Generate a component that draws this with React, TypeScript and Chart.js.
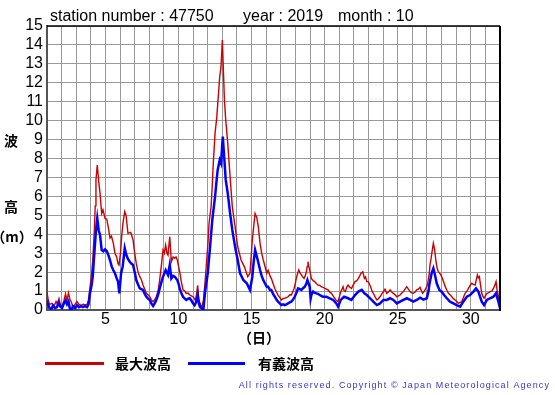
import React, { useEffect, useRef } from "react";
import { Chart, registerables } from "chart.js";

Chart.register(...registerables);

const titleParts = ["station number : 47750", "year : 2019", "month : 10"];
const xLabelDays = [5, 10, 15, 20, 25, 30];
const seriesLabels = ["最大波高", "有義波高"];
const seriesColors = ["#cc0000", "#0000ff"];
const yAxisChars = ["波", "高", "（m）"];
const xAxisTitle = "（日）";
const copyright = "All rights reserved. Copyright © Japan Meteorological Agency";

// [day of month (1.0 = Oct 1 00:00), wave height m]
const maxWave: [number, number][] = [
  [1.0,0.95],[1.07,0.6],[1.17,0.3],[1.34,0.35],[1.48,0.2],[1.62,0.45],[1.72,0.3],[1.82,0.6],[1.92,0.25],[2.03,0.2],
  [2.16,0.5],[2.27,0.85],[2.37,0.5],[2.47,0.9],[2.57,0.55],[2.68,0.4],[2.78,0.1],[2.92,0.3],[3.05,0.45],[3.19,0.3],
  [3.33,0.25],[3.46,0.3],[3.6,0.28],[3.74,0.3],[3.84,0.5],[3.94,1.2],[4.05,1.9],[4.13,2.64],[4.24,4.2],[4.3,5.5],
  [4.35,6.87],[4.44,7.66],[4.54,6.78],[4.63,6.16],[4.74,5.1],[4.83,5.3],[4.97,4.85],[5.09,4.8],[5.21,4.3],[5.31,3.8],
  [5.41,3.9],[5.54,3.52],[5.65,3.0],[5.77,2.8],[5.86,2.45],[5.93,2.38],[6.03,3.0],[6.11,3.9],[6.2,4.6],[6.32,5.2],
  [6.41,5.0],[6.54,4.05],[6.73,4.1],[6.89,3.7],[7.0,3.0],[7.11,2.46],[7.23,2.0],[7.35,1.76],[7.46,1.6],[7.57,1.32],
  [7.69,1.1],[7.8,0.88],[7.91,0.8],[8.03,0.7],[8.14,0.55],[8.26,0.44],[8.37,0.55],[8.48,0.7],[8.6,1.0],[8.71,1.58],
  [8.82,2.3],[8.94,3.17],[9.03,3.0],[9.12,3.43],[9.21,3.0],[9.28,2.9],[9.4,3.87],[9.51,2.55],[9.63,2.8],[9.74,2.73],
  [9.83,2.8],[9.92,2.64],[10.0,2.3],[10.08,2.02],[10.19,1.5],[10.31,1.06],[10.43,1.0],[10.53,0.88],[10.65,0.9],[10.77,0.79],
  [10.88,0.75],[10.99,0.7],[11.1,0.6],[11.15,0.5],[11.23,0.8],[11.31,1.3],[11.38,0.6],[11.47,0.35],[11.59,0.12],[11.7,0.5],
  [11.81,1.41],[11.93,2.64],[12.02,3.6],[12.09,4.58],[12.23,5.46],[12.31,6.6],[12.38,7.75],[12.5,9.33],[12.62,10.2],[12.72,11.27],
  [12.82,12.32],[12.91,12.85],[13.0,14.26],[13.07,12.68],[13.14,11.1],[13.23,10.04],[13.37,8.8],[13.53,7.04],[13.68,5.46],[13.87,4.4],
  [14.05,3.34],[14.28,2.64],[14.5,2.29],[14.74,1.76],[14.89,1.94],[14.97,2.8],[15.05,3.7],[15.17,4.6],[15.24,5.1],[15.35,4.9],
  [15.46,4.4],[15.58,3.52],[15.69,3.0],[15.8,2.64],[15.92,2.3],[16.04,1.94],[16.13,2.1],[16.26,1.8],[16.35,1.67],[16.47,1.4],
  [16.59,1.14],[16.7,0.95],[16.81,0.79],[16.93,0.65],[17.04,0.53],[17.15,0.6],[17.27,0.62],[17.38,0.65],[17.5,0.7],[17.61,0.8],
  [17.72,0.79],[17.84,1.0],[17.91,1.14],[17.99,1.4],[18.06,1.67],[18.14,1.9],[18.23,2.11],[18.32,1.95],[18.41,1.85],[18.5,1.75],
  [18.59,1.67],[18.67,1.8],[18.75,2.02],[18.81,2.3],[18.86,2.55],[18.92,2.3],[18.98,2.11],[19.09,1.67],[19.21,1.55],[19.32,1.5],
  [19.43,1.4],[19.55,1.32],[19.67,1.3],[19.77,1.23],[19.89,1.2],[20.01,1.14],[20.12,1.1],[20.23,1.06],[20.35,0.95],[20.46,0.88],
  [20.58,0.75],[20.69,0.62],[20.8,0.5],[20.92,0.44],[21.01,0.7],[21.1,0.97],[21.19,1.1],[21.26,1.23],[21.34,1.0],[21.42,0.97],
  [21.51,1.2],[21.6,1.32],[21.72,1.2],[21.84,1.14],[21.94,1.3],[22.08,1.5],[22.2,1.55],[22.31,1.67],[22.4,1.8],[22.49,1.94],
  [22.61,2.02],[22.72,1.67],[22.8,1.75],[22.88,1.5],[22.97,1.5],[23.04,1.41],[23.13,1.25],[23.22,1.06],[23.31,0.9],[23.4,0.79],
  [23.48,0.65],[23.57,0.53],[23.68,0.6],[23.79,0.7],[23.91,0.85],[24.02,0.97],[24.13,1.1],[24.25,0.88],[24.36,0.95],[24.48,1.06],
  [24.59,0.95],[24.7,0.88],[24.82,0.8],[24.94,0.7],[25.05,0.75],[25.16,0.79],[25.28,0.9],[25.39,0.97],[25.5,1.1],[25.62,1.23],
  [25.73,1.1],[25.85,0.97],[25.96,0.9],[26.07,0.88],[26.19,0.95],[26.3,1.06],[26.41,1.1],[26.53,1.2],[26.65,0.95],[26.71,0.88],
  [26.87,1.06],[27.03,1.32],[27.15,1.85],[27.21,2.38],[27.28,2.7],[27.35,3.08],[27.44,3.52],[27.53,3.17],[27.62,2.55],[27.7,2.2],
  [27.78,2.02],[27.86,1.95],[27.95,1.85],[28.04,1.7],[28.13,1.5],[28.22,1.3],[28.31,1.14],[28.39,1.0],[28.47,0.88],[28.58,0.8],
  [28.7,0.7],[28.81,0.6],[28.93,0.53],[29.04,0.45],[29.15,0.35],[29.27,0.4],[29.38,0.44],[29.49,0.65],[29.61,0.88],[29.73,1.0],
  [29.84,1.14],[29.95,1.3],[30.07,1.41],[30.18,1.35],[30.3,1.32],[30.38,1.6],[30.45,1.85],[30.52,1.7],[30.59,1.76],[30.67,1.3],
  [30.75,0.88],[30.84,0.7],[30.91,0.62],[31.0,0.75],[31.1,0.88],[31.21,0.9],[31.32,0.97],[31.44,1.0],[31.55,1.14],[31.64,1.3],
  [31.73,1.5],[31.8,1.06],[31.9,0.7],[32.0,0.26],
];

const sigWave: [number, number][] = [
  [1.0,0.5],[1.07,0.3],[1.17,0.1],[1.31,0.05],[1.41,0.25],[1.55,0.1],[1.68,0.15],[1.79,0.4],[1.89,0.2],[2.03,0.1],
  [2.16,0.35],[2.27,0.5],[2.37,0.3],[2.47,0.45],[2.57,0.05],[2.68,0.02],[2.78,0.2],[2.92,0.1],[3.05,0.25],[3.19,0.15],
  [3.33,0.2],[3.46,0.15],[3.6,0.2],[3.74,0.15],[3.84,0.3],[3.94,0.88],[4.05,1.3],[4.13,1.76],[4.24,3.0],[4.35,4.2],
  [4.44,4.84],[4.54,4.2],[4.63,3.96],[4.74,3.17],[4.85,3.1],[4.97,3.2],[5.09,3.1],[5.2,2.9],[5.31,2.64],[5.43,2.29],
  [5.54,2.1],[5.65,1.94],[5.77,1.67],[5.86,1.5],[5.95,0.88],[6.07,1.94],[6.18,2.3],[6.32,3.26],[6.43,2.9],[6.54,2.7],
  [6.66,2.55],[6.77,2.45],[6.89,2.38],[7.0,2.0],[7.11,1.58],[7.23,1.35],[7.35,1.14],[7.46,1.1],[7.57,1.06],[7.69,0.85],
  [7.8,0.7],[7.91,0.6],[8.03,0.53],[8.14,0.35],[8.26,0.21],[8.37,0.35],[8.48,0.53],[8.6,0.8],[8.71,1.14],[8.82,1.45],
  [8.94,1.76],[9.12,2.11],[9.28,1.85],[9.4,2.38],[9.51,1.67],[9.63,1.8],[9.74,1.76],[9.92,1.58],[10.0,1.4],[10.08,1.14],
  [10.19,0.9],[10.31,0.7],[10.43,0.6],[10.53,0.53],[10.65,0.6],[10.77,0.62],[10.88,0.5],[10.99,0.35],[11.1,0.25],[11.2,0.4],
  [11.31,0.8],[11.38,0.4],[11.47,0.15],[11.59,0.1],[11.7,0.02],[11.81,0.88],[11.9,1.4],[12.0,1.94],[12.16,3.34],[12.31,4.75],
  [12.5,5.99],[12.6,6.8],[12.68,7.4],[12.82,7.92],[12.91,7.75],[13.03,9.16],[13.14,7.92],[13.23,6.87],[13.37,6.16],[13.53,5.1],
  [13.68,4.23],[13.87,3.34],[14.05,2.64],[14.21,1.94],[14.44,1.58],[14.67,1.41],[14.89,1.06],[14.97,1.4],[15.05,1.76],[15.15,2.6],
  [15.24,3.17],[15.33,2.9],[15.42,2.64],[15.58,2.11],[15.69,1.8],[15.8,1.58],[15.92,1.4],[16.04,1.23],[16.13,1.23],[16.26,1.06],
  [16.35,1.06],[16.47,0.85],[16.59,0.7],[16.7,0.55],[16.81,0.44],[16.93,0.35],[17.04,0.26],[17.15,0.3],[17.27,0.26],[17.38,0.3],
  [17.5,0.35],[17.61,0.4],[17.72,0.44],[17.84,0.55],[17.95,0.7],[18.06,0.9],[18.18,1.14],[18.3,1.1],[18.41,1.06],[18.52,1.15],
  [18.64,1.23],[18.75,1.4],[18.82,1.58],[18.9,1.4],[18.98,1.23],[19.04,0.6],[19.09,0.79],[19.21,0.97],[19.35,0.9],[19.43,0.88],
  [19.55,0.85],[19.67,0.79],[19.77,0.75],[19.89,0.7],[20.12,0.7],[20.35,0.62],[20.58,0.53],[20.8,0.35],[20.92,0.18],[21.1,0.53],
  [21.33,0.7],[21.6,0.62],[21.83,0.53],[22.08,0.79],[22.31,0.97],[22.54,1.06],[22.72,0.88],[22.88,0.79],[23.11,0.62],[23.33,0.44],
  [23.57,0.26],[23.79,0.35],[24.02,0.53],[24.25,0.53],[24.48,0.62],[24.7,0.53],[24.94,0.35],[25.16,0.44],[25.39,0.53],[25.62,0.62],
  [25.85,0.53],[26.07,0.44],[26.3,0.53],[26.53,0.65],[26.76,0.55],[26.99,0.62],[27.11,1.0],[27.16,1.32],[27.32,1.94],[27.44,2.2],
  [27.55,1.85],[27.67,1.41],[27.85,1.06],[28.01,0.97],[28.17,0.79],[28.36,0.62],[28.58,0.44],[28.81,0.35],[29.04,0.26],[29.27,0.18],
  [29.49,0.44],[29.73,0.7],[29.95,0.79],[30.18,0.97],[30.36,1.14],[30.52,0.97],[30.75,0.44],[30.91,0.26],[31.1,0.53],[31.32,0.62],
  [31.55,0.7],[31.73,0.88],[31.89,0.44],[32.0,0.09],
];

const LATIN = '"Liberation Sans", Arial, sans-serif';
const CJK = '"Noto Sans CJK JP", sans-serif';

export default function App() {
  const ref = useRef<HTMLCanvasElement>(null);

  useEffect(() => {
    const canvas = ref.current;
    if (!canvas) return;

    const decor = {
      id: "decor",
      afterDraw(chart: any) {
        const ctx = chart.ctx as CanvasRenderingContext2D;
        const { left, right, top, bottom } = chart.chartArea;
        ctx.save();
        // frame top & right
        ctx.strokeStyle = "#000";
        ctx.lineWidth = 1.5;
        ctx.beginPath();
        ctx.moveTo(left, top);
        ctx.lineTo(right, top);
        ctx.stroke();
        ctx.lineWidth = 2;
        ctx.beginPath();
        ctx.moveTo(right, top);
        ctx.lineTo(right, bottom + 1);
        ctx.stroke();

        // title
        ctx.fillStyle = "#000";
        ctx.font = `16px ${LATIN}`;
        ctx.textAlign = "left";
        ctx.textBaseline = "alphabetic";
        const titleX = [50, 243, 338];
        titleParts.forEach((t, i) => ctx.fillText(t, titleX[i], 21));

        // y-axis title chars
        ctx.font = `bold 14px ${CJK}`;
        ctx.textAlign = "center";
        ctx.textBaseline = "middle";
        const yS = chart.scales.y;
        ctx.fillText(yAxisChars[0], 11, yS.getPixelForValue(9) + 1);
        ctx.fillText(yAxisChars[1], 11, yS.getPixelForValue(5.5) + 1);
        ctx.fillText(yAxisChars[2], 12, yS.getPixelForValue(4) + 2);

        // x-axis title
        ctx.fillText(xAxisTitle, 259, 338);

        // legend
        const legendY = 363.5;
        const legendItems = [
          { lx: 45, lw: 59, tx: 115 },
          { lx: 188, lw: 57, tx: 258 },
        ];
        chart.data.datasets.forEach((ds: any, i: number) => {
          const it = legendItems[i];
          ctx.fillStyle = ds.borderColor;
          ctx.fillRect(it.lx, legendY - 1.5, it.lw, 3);
          ctx.fillStyle = "#000";
          ctx.textAlign = "left";
          ctx.fillText(ds.label, it.tx, legendY);
        });

        // copyright
        ctx.fillStyle = "#3838cc";
        ctx.font = `9px ${LATIN}`;
        (ctx as any).letterSpacing = "1.1px";
        ctx.textAlign = "right";
        ctx.textBaseline = "alphabetic";
        ctx.fillText(copyright, 550, 388);
        ctx.restore();
      },
    };

    const chart = new Chart(canvas, {
      type: "line",
      data: {
        datasets: [
          {
            label: seriesLabels[0],
            data: maxWave.map(([x, y]) => ({ x, y })),
            borderColor: seriesColors[0],
            borderWidth: 1.4,
            pointRadius: 0,
            tension: 0,
            order: 1,
          },
          {
            label: seriesLabels[1],
            data: sigWave.map(([x, y]) => ({ x, y })),
            borderColor: seriesColors[1],
            borderWidth: 2.5,
            pointRadius: 0,
            tension: 0,
            order: 0,
          },
        ],
      },
      options: {
        responsive: false,
        animation: false,
        devicePixelRatio: 1,
        layout: { padding: { left: 0, top: 26, right: 55, bottom: 0 } },
        plugins: {
          legend: { display: false },
          title: { display: false },
          tooltip: { enabled: false },
        },
        scales: {
          x: {
            type: "linear",
            min: 1,
            max: 32,
            afterFit: (s: any) => {
              s.height = 85;
            },
            ticks: {
              stepSize: 1,
              autoSkip: false,
              maxRotation: 0,
              padding: 0,
              color: "#000",
              font: { family: LATIN, size: 16 },
              callback: (v: any) => (xLabelDays.includes(Number(v)) ? String(v) : ""),
            },
            grid: { color: "#999", lineWidth: 1, drawTicks: false },
            border: { color: "#555", width: 2 },
          },
          y: {
            min: 0,
            max: 15,
            afterFit: (s: any) => {
              s.width = 47;
            },
            ticks: {
              stepSize: 1,
              autoSkip: false,
              padding: 4,
              color: "#000",
              font: { family: LATIN, size: 16 },
            },
            grid: { color: "#999", lineWidth: 1, drawTicks: false },
            border: { color: "#555", width: 2 },
          },
        },
      },
      plugins: [decor],
    });

    return () => chart.destroy();
  }, []);

  return (
    <div style={{ position: "fixed", left: 0, top: 0, width: 555, height: 395, background: "#fff" }}>
      <canvas ref={ref} width={555} height={395} style={{ display: "block" }} />
    </div>
  );
}
